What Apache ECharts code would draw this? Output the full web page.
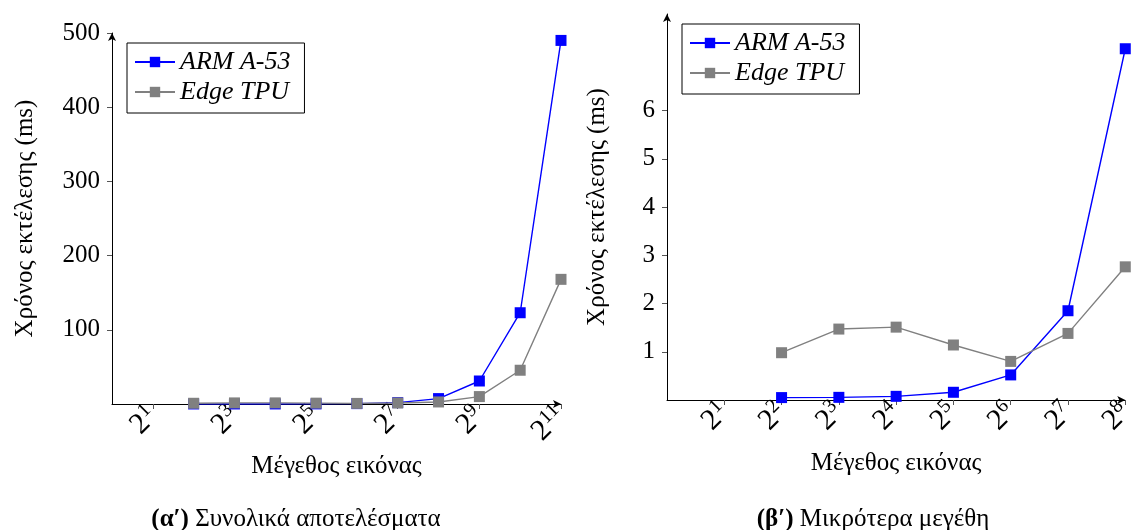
<!DOCTYPE html>
<html>
<head>
<meta charset="utf-8">
<script src="https://cdn.jsdelivr.net/npm/echarts@6/dist/echarts.min.js"></script>
<style>
  html, body { margin: 0; padding: 0; background: #fff; }
  #chart { width: 1138px; height: 530px; }
</style>
</head>
<body>
<div id="chart"></div>
<script>
// μέγεθος εικόνας (pixels)
const sizes = [4, 8, 16, 32, 64, 128, 256, 512, 1024, 2048];
// χρόνος εκτέλεσης (ms)
const armTimes = [0.05, 0.055, 0.076, 0.16, 0.52, 1.85, 7.28, 31, 123, 490];
const tpuTimes = [0.98, 1.47, 1.51, 1.14, 0.8, 1.38, 2.76, 10, 45.5, 168];
// ticks
const xTicksAll = [2, 8, 32, 128, 512, 2048];
const xTicksSmall = [2, 4, 8, 16, 32, 64, 128, 256];
const yTicksSmall = [1, 2, 3, 4, 5, 6];
const smallMax = 256;

const FONT = "'Liberation Serif', 'DejaVu Serif', serif";
const ARM_COLOR = "#0000ff";
const TPU_COLOR = "#808080";

const pairs = (xs, ys) => xs.map((x, i) => [x, ys[i]]).filter((p) => p[0] <= smallMax);
const pairsAll = (xs, ys) => xs.map((x, i) => [x, ys[i]]);

const expLabel = (v) => "{b|2}{s|" + Math.round(Math.log2(v)) + "}";

const xAxisBase = (gridIndex, max, ticks) => ({
  type: "log",
  logBase: 2,
  gridIndex,
  min: 1,
  max,
  name: "Μέγεθος εικόνας",
  nameLocation: "middle",
  nameGap: 48,
  nameTextStyle: { fontFamily: FONT, fontSize: 25, color: "#000" },
  axisLine: {
    lineStyle: { color: "#000", width: 1 },
    symbol: ["none", "arrow"],
    symbolSize: [6, 8],
  },
  axisTick: { customValues: ticks, length: 5, lineStyle: { color: "#555" } },
  splitLine: { show: false },
  minorTick: { show: false },
  axisLabel: {
    customValues: ticks,
    rotate: 45,
    margin: 8,
    fontFamily: FONT,
    fontSize: 30,
    color: "#000",
    formatter: expLabel,
    rich: {
      b: { fontFamily: FONT, fontSize: 30, color: "#000", lineHeight: 34 },
      s: { fontFamily: FONT, fontSize: 20, color: "#000", verticalAlign: "top" },
    },
  },
});

const yAxisBase = (gridIndex) => ({
  type: "value",
  gridIndex,
  min: 0,
  name: "Χρόνος εκτέλεσης (ms)",
  nameLocation: "middle",
  nameTextStyle: { fontFamily: FONT, fontSize: 25, color: "#000" },
  axisLine: {
    show: true,
    lineStyle: { color: "#000", width: 1 },
    symbol: ["none", "arrow"],
    symbolSize: [6, 8],
  },
  axisTick: { show: true, length: 5, lineStyle: { color: "#555" } },
  splitLine: { show: false },
  axisLabel: { fontFamily: FONT, fontSize: 25, color: "#000", margin: 12 },
});

const legendBase = (left, top) => ({
  left,
  top,
  orient: "vertical",
  backgroundColor: "#fff",
  borderColor: "#000",
  borderWidth: 1,
  borderRadius: 0,
  padding: [6, 14, 8, 7],
  itemGap: 4,
  itemWidth: 40,
  itemHeight: 13,
  textStyle: { fontFamily: FONT, fontStyle: "italic", fontSize: 26, color: "#000" },
});

const lineSeries = (name, color, data, idx) => ({
  name,
  type: "line",
  xAxisIndex: idx,
  yAxisIndex: idx,
  data,
  symbol: "rect",
  symbolSize: 11,
  color,
  lineStyle: { color, width: 1.4 },
  itemStyle: { color },
  emphasis: { disabled: true },
  animation: false,
});

const chart = echarts.init(document.getElementById("chart"));

const leftY = yAxisBase(0);
leftY.max = 500;
leftY.interval = 100;
leftY.nameGap = 74;
leftY.axisLabel.showMinLabel = false;

const rightY = yAxisBase(1);
rightY.max = 8;
rightY.interval = 1;
rightY.nameGap = 57;
rightY.axisLabel.customValues = yTicksSmall;
rightY.axisTick.customValues = yTicksSmall;

const rightX = xAxisBase(1, smallMax, xTicksSmall);
rightX.nameGap = 51;

const option = {
  animation: false,
  title: [
    {
      text: "{a|(α′)} Συνολικά αποτελέσματα",
      left: 291,
      top: 502,
      textAlign: "center",
      textStyle: {
        fontFamily: FONT,
        fontSize: 25,
        fontWeight: "normal",
        color: "#000",
        rich: { a: { fontFamily: FONT, fontSize: 25, fontWeight: "bold", color: "#000" } },
      },
    },
    {
      text: "{a|(β′)} Μικρότερα μεγέθη",
      left: 868,
      top: 502,
      textAlign: "center",
      textStyle: {
        fontFamily: FONT,
        fontSize: 25,
        fontWeight: "normal",
        color: "#000",
        rich: { a: { fontFamily: FONT, fontSize: 25, fontWeight: "bold", color: "#000" } },
      },
    },
  ],
  legend: [
    Object.assign(legendBase(127, 43), { data: ["ARM A-53", "Edge TPU"] }),
    Object.assign(legendBase(682, 24), { data: ["ARM A-53", "Edge TPU"] }),
  ],
  grid: [
    { left: 112, right: 577, top: 33, bottom: 126 },
    { left: 667, right: 4, top: 14, bottom: 130 },
  ],
  xAxis: [xAxisBase(0, 2048, xTicksAll), rightX],
  yAxis: [leftY, rightY],
  series: [
    lineSeries("ARM A-53", ARM_COLOR, pairsAll(sizes, armTimes), 0),
    lineSeries("Edge TPU", TPU_COLOR, pairsAll(sizes, tpuTimes), 0),
    lineSeries("ARM A-53", ARM_COLOR, pairs(sizes, armTimes), 1),
    lineSeries("Edge TPU", TPU_COLOR, pairs(sizes, tpuTimes), 1),
  ],
};

chart.setOption(option);
</script>
</body>
</html>
